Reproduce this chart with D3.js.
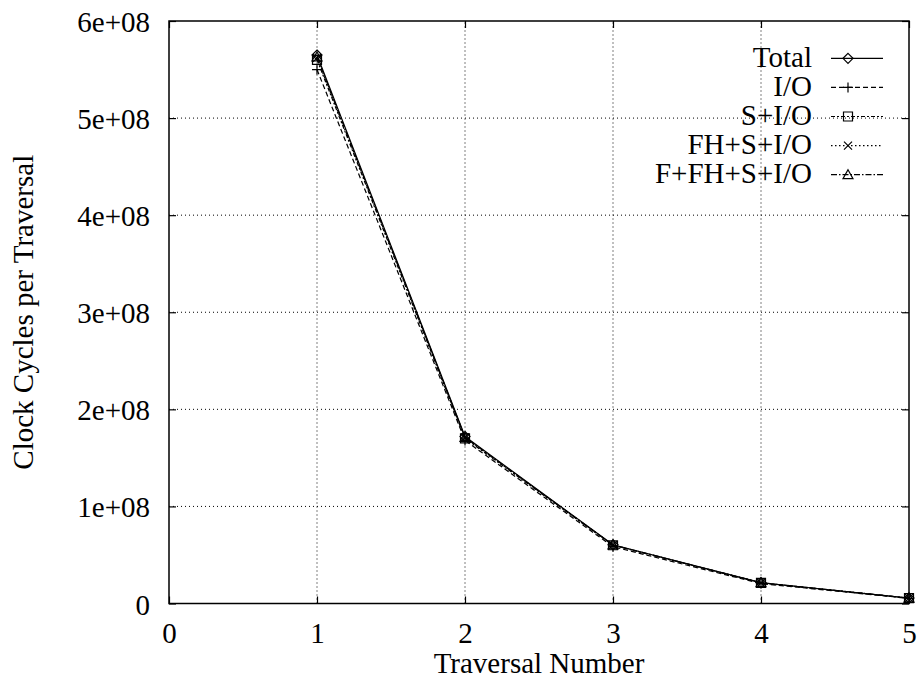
<!DOCTYPE html>
<html>
<head>
<meta charset="utf-8">
<script src="https://cdn.jsdelivr.net/npm/d3@7"></script>
<style>
  body { margin: 0; background: #fff; }
  text { font-family: "Liberation Serif", "Times New Roman", serif; fill: #000; }
</style>
</head>
<body>
<div id="chart"></div>
<script>
// traversal numbers along the x axis
var traversals = [1, 2, 3, 4, 5]

// clock cycles per traversal, one array per series
var total      = [5.65e8, 1.72e8, 6.05e7, 2.15e7, 5.6e6]
var io         = [5.50e8, 1.68e8, 5.85e7, 2.05e7, 5.3e6]
var sio        = [5.60e8, 1.70e8, 6.00e7, 2.12e7, 5.5e6]
var fhsio      = [5.62e8, 1.71e8, 6.02e7, 2.13e7, 5.5e6]
var ffhsio     = [5.63e8, 1.71e8, 6.03e7, 2.14e7, 5.6e6]

var seriesNames = ["Total", "I/O", "S+I/O", "FH+S+I/O", "F+FH+S+I/O"]
var xTicks = [0, 1, 2, 3, 4, 5]
var yTicks = [0, 1e8, 2e8, 3e8, 4e8, 5e8, 6e8]

var width = 917,
    height = 679,
    margin = {top: 21, left: 169, right: 8, bottom: 75.5},
    fontSize = "29px"

var svg = d3.select("#chart")
  .append("svg")
    .attr("width", width)
    .attr("height", height)

var x = d3.scaleLinear().domain([0, 5]).range([margin.left, width - margin.right])
var y = d3.scaleLinear().domain([0, 6e8]).range([height - margin.bottom, margin.top])

var x0 = x.range()[0], x1 = x.range()[1], y0 = y.range()[0], y1 = y.range()[1]

// dotted grid
svg.append("g")
  .selectAll("line")
  .data(xTicks.slice(1, -1))
  .enter().append("line")
    .attr("x1", d => x(d)).attr("x2", d => x(d))
    .attr("y1", y0).attr("y2", y1)
    .attr("stroke", "#000").attr("stroke-width", 1)
    .attr("stroke-dasharray", "1,3")
svg.append("g")
  .selectAll("line")
  .data(yTicks.slice(1, -1))
  .enter().append("line")
    .attr("x1", x0).attr("x2", x1)
    .attr("y1", d => y(d)).attr("y2", d => y(d))
    .attr("stroke", "#000").attr("stroke-width", 1)
    .attr("stroke-dasharray", "1,3")

// axes with inward ticks, mirrored on top and right
var yfmt = d => d === 0 ? "0" : (d / 1e8) + "e+08"
var yAxis = svg.append("g")
  .attr("transform", "translate(" + x0 + ",0)")
  .call(d3.axisLeft(y).tickValues(yTicks).tickSize(-7).tickFormat(yfmt))
yAxis.selectAll(".tick text").attr("x", -19).attr("dy", null).attr("y", 10.5)
svg.append("g")
  .attr("transform", "translate(" + x1 + ",0)")
  .call(d3.axisRight(y).tickValues(yTicks).tickSize(-7).tickFormat(""))
var xAxis = svg.append("g")
  .attr("transform", "translate(0," + y0 + ")")
  .call(d3.axisBottom(x).tickValues(xTicks).tickSize(-7).tickFormat(d3.format("d")))
xAxis.selectAll(".tick text").attr("dy", null).attr("y", 39.5)
svg.append("g")
  .attr("transform", "translate(0," + y1 + ")")
  .call(d3.axisTop(x).tickValues(xTicks).tickSize(-7).tickFormat(""))

svg.selectAll(".domain").remove()
svg.selectAll(".tick line").attr("stroke", "#000").attr("stroke-width", 1.2)
svg.selectAll(".tick text").style("font-size", fontSize).style("font-family", "'Liberation Serif', serif")

// frame
svg.append("rect")
  .attr("x", x0).attr("y", y1)
  .attr("width", x1 - x0).attr("height", y0 - y1)
  .attr("fill", "none").attr("stroke", "#000").attr("stroke-width", 1.5)

// axis titles
svg.append("text")
  .attr("x", (x0 + x1) / 2).attr("y", 673)
  .attr("text-anchor", "middle")
  .style("font-size", fontSize)
  .text("Traversal Number")
svg.append("text")
  .attr("transform", "translate(33," + ((y0 + y1) / 2) + ") rotate(-90)")
  .attr("text-anchor", "middle")
  .style("font-size", fontSize)
  .text("Clock Cycles per Traversal")

// series: solid, dashed, short dash, dotted, dash-dot
var dashes = ["none", "5,3", "4,2,2,2", "1.5,2.5", "6,2,1.5,2"]
var allValues = [total, io, sio, fhsio, ffhsio]

var symbols = [
  function (g, cx, cy) { g.append("path").attr("d", "M" + cx + "," + (cy - 5) + "L" + (cx + 5) + "," + cy + "L" + cx + "," + (cy + 5) + "L" + (cx - 5) + "," + cy + "Z") },
  function (g, cx, cy) { g.append("path").attr("d", "M" + (cx - 5) + "," + cy + "H" + (cx + 5) + "M" + cx + "," + (cy - 5) + "V" + (cy + 5)) },
  function (g, cx, cy) { g.append("path").attr("d", "M" + (cx - 4.5) + "," + (cy - 4.5) + "h9v9h-9Z") },
  function (g, cx, cy) { g.append("path").attr("d", "M" + (cx - 4) + "," + (cy - 4) + "L" + (cx + 4) + "," + (cy + 4) + "M" + (cx + 4) + "," + (cy - 4) + "L" + (cx - 4) + "," + (cy + 4)) },
  function (g, cx, cy) { g.append("path").attr("d", "M" + cx + "," + (cy - 5) + "L" + (cx + 5) + "," + (cy + 4) + "L" + (cx - 5) + "," + (cy + 4) + "Z") }
]

var line = d3.line()
  .x(function (d, i) { return x(traversals[i]) })
  .y(function (d) { return y(d) })

allValues.forEach(function (vals, s) {
  var g = svg.append("g")
    .attr("fill", "none").attr("stroke", "#000").attr("stroke-width", 1.2)
  g.append("path")
    .attr("d", line(vals))
    .attr("stroke-dasharray", dashes[s])
  vals.forEach(function (v, i) {
    symbols[s](g, x(traversals[i]), y(v))
  })
})

// legend
var legend = svg.append("g")
seriesNames.forEach(function (name, s) {
  var ly = 58.3 + s * 29.1
  legend.append("text")
    .attr("x", 812).attr("y", ly + 8.5)
    .attr("text-anchor", "end")
    .style("font-size", fontSize)
    .text(name)
  var g = legend.append("g")
    .attr("fill", "none").attr("stroke", "#000").attr("stroke-width", 1.2)
  g.append("line")
    .attr("x1", 831).attr("x2", 883)
    .attr("y1", ly).attr("y2", ly)
    .attr("stroke-dasharray", dashes[s])
  symbols[s](g, 848, ly)
})
</script>
</body>
</html>
